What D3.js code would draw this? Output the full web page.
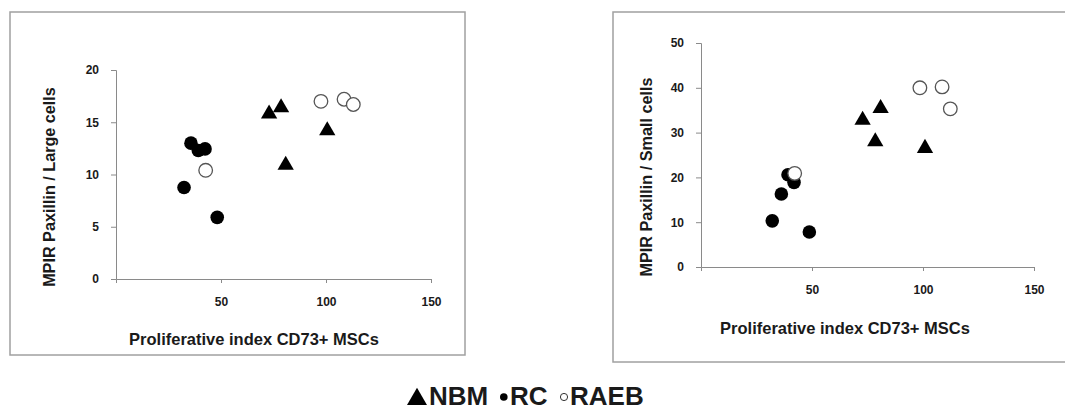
<!DOCTYPE html>
<html><head><meta charset="utf-8">
<script src="https://cdn.jsdelivr.net/npm/d3@7"></script>
<style>
html,body{margin:0;padding:0;background:#fff;}
svg text{font-family:"Liberation Sans",Arial,sans-serif;font-weight:bold;fill:#1a1a1a;}
</style></head>
<body><svg id="c" width="1065" height="410"></svg>
<script>
// Left panel: MPIR Paxillin / Large cells
const largeNBM_x = [72.9, 78.6, 80.8, 100.6];
const largeNBM_y = [15.8, 16.4, 10.9, 14.2];
const largeRC_x = [35.7, 39.2, 42.4, 32.4, 48.2];
const largeRC_y = [13.0, 12.3, 12.45, 8.75, 5.9];
const largeRAEB_x = [42.7, 97.6, 108.6, 113.0];
const largeRAEB_y = [10.4, 17.0, 17.2, 16.7];
// Right panel: MPIR Paxillin / Small cells
const smallNBM_x = [72.8, 80.9, 78.5, 100.9];
const smallNBM_y = [32.8, 35.4, 28.0, 26.5];
const smallRC_x = [32.1, 36.2, 39.2, 41.9, 48.8];
const smallRC_y = [10.3, 16.3, 20.6, 18.9, 7.8];
const smallRAEB_x = [42.2, 98.6, 108.6, 112.3];
const smallRAEB_y = [20.9, 40.0, 40.2, 35.3];
const xTicks = [50, 100, 150];
const largeYTicks = [0, 5, 10, 15, 20];
const smallYTicks = [0, 10, 20, 30, 40, 50];
const xTitle = "Proliferative index CD73+ MSCs";
const largeYTitle = "MPIR Paxillin / Large cells";
const smallYTitle = "MPIR Paxillin / Small cells";
const legendNames = ["NBM", "RC", "RAEB"];
const legendShapes = ["triangle", "filled", "open"];

const svg = d3.select("#c");
const zip = (a, b) => a.map((v, i) => [v, b[i]]);

function panel(cfg) {
  svg.append("rect").attr("x", cfg.frame[0]).attr("y", cfg.frame[1])
    .attr("width", cfg.frame[2]).attr("height", cfg.frame[3])
    .attr("fill", "#fff").attr("stroke", "#a0a0a0").attr("stroke-width", 1.5);
  const x = d3.scaleLinear().domain([0, 150]).range([cfg.x0, cfg.x1]);
  const y = d3.scaleLinear().domain([0, cfg.ymax]).range([cfg.y0, cfg.y1]);
  const g = svg.append("g");
  const xa = g.append("g").attr("transform", `translate(0,${cfg.y0})`)
    .call(d3.axisBottom(x).tickValues(xTicks).tickSize(4).tickPadding(14));
  const ya = g.append("g").attr("transform", `translate(${cfg.x0},0)`)
    .call(d3.axisLeft(y).tickValues(cfg.yticks).tickSize(5).tickPadding(12));
  [xa, ya].forEach(a => {
    a.selectAll("path,line").attr("stroke", "#8a8a8a").attr("stroke-width", 1);
    a.selectAll("text").attr("font-size", 12).attr("font-weight", "bold")
      .attr("font-family", "Liberation Sans, Arial, sans-serif").attr("fill", "#1a1a1a");
  });
  g.append("text").attr("x", cfg.xtx).attr("y", cfg.xty)
    .attr("text-anchor", "middle").attr("font-size", 16.5).text(xTitle);
  g.append("text").attr("transform", `translate(${cfg.ytx},${cfg.yty}) rotate(-90)`)
    .attr("text-anchor", "middle").attr("font-size", 16.2).text(cfg.ytitle);

  const tri = d3.symbol().type(d3.symbolTriangle).size(115);
  g.selectAll(".rc").data(zip(cfg.rc[0], cfg.rc[1])).join("circle")
    .attr("cx", d => x(d[0])).attr("cy", d => y(d[1])).attr("r", 6.8)
    .attr("fill", "#000");
  g.selectAll(".raeb").data(zip(cfg.raeb[0], cfg.raeb[1])).join("circle")
    .attr("cx", d => x(d[0])).attr("cy", d => y(d[1])).attr("r", 6.8)
    .attr("fill", "#fff").attr("stroke", "#555").attr("stroke-width", 1.3);
  g.selectAll(".nbm").data(zip(cfg.nbm[0], cfg.nbm[1])).join("path")
    .attr("d", tri).attr("transform", d => `translate(${x(d[0])},${y(d[1])})`)
    .attr("fill", "#000");
}

panel({frame: [10, 12, 455, 343], x0: 116, x1: 431, y0: 279, y1: 70, ymax: 20,
  yticks: largeYTicks, xtx: 254, xty: 345, ytx: 55, yty: 187, ytitle: largeYTitle,
  nbm: [largeNBM_x, largeNBM_y], rc: [largeRC_x, largeRC_y], raeb: [largeRAEB_x, largeRAEB_y]});
panel({frame: [613, 12, 470, 350], x0: 701, x1: 1034, y0: 267, y1: 43, ymax: 50,
  yticks: smallYTicks, xtx: 845, xty: 334, ytx: 652, yty: 177, ytitle: smallYTitle,
  nbm: [smallNBM_x, smallNBM_y], rc: [smallRC_x, smallRC_y], raeb: [smallRAEB_x, smallRAEB_y]});

// legend
const legX = d3.scaleOrdinal().domain(legendNames).range([407, 500, 560]);
const lg = svg.append("g");
legendNames.forEach((name, i) => {
  const sx = legX(name);
  const shape = legendShapes[i];
  let tx;
  if (shape === "triangle") {
    lg.append("path").attr("d", d3.symbol().type(d3.symbolTriangle).size(173)())
      .attr("transform", `translate(${sx + 10},${399.2})`).attr("fill", "#000");
    tx = sx + 22;
  } else if (shape === "filled") {
    lg.append("circle").attr("cx", sx + 3.8).attr("cy", 397).attr("r", 3.8).attr("fill", "#000");
    tx = sx + 10;
  } else {
    lg.append("circle").attr("cx", sx + 4).attr("cy", 397).attr("r", 3.6)
      .attr("fill", "#fff").attr("stroke", "#333").attr("stroke-width", 1);
    tx = sx + 10;
  }
  lg.append("text").attr("x", tx).attr("y", 405).attr("font-size", 26).text(name);
});
</script></body></html>
